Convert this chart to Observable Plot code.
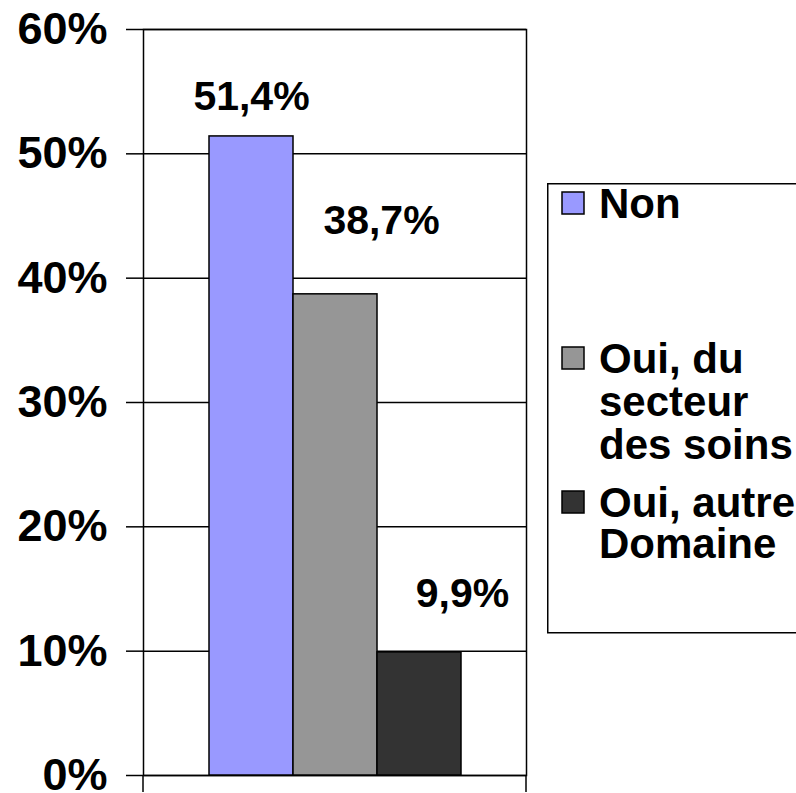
<!DOCTYPE html>
<html>
<head>
<meta charset="utf-8">
<script src="https://cdn.jsdelivr.net/npm/d3@7"></script>
<script src="https://cdn.jsdelivr.net/npm/@observablehq/plot@0.6"></script>
<style>
  html, body { margin: 0; padding: 0; background: #fff; }
  #wrap { position: relative; width: 796px; height: 793px; overflow: hidden; }
  #legend { position: absolute; left: 547px; top: 183px; }
</style>
</head>
<body>
<div id="wrap"></div>
<script>
const categories = ["Non", "Oui, du secteur des soins", "Oui, autre Domaine"];
const values = [0.514, 0.387, 0.099];
const valueLabels = ["51,4%", "38,7%", "9,9%"];
const colors = ["#9999FF", "#969696", "#333333"];
const yTicks = [0, 0.1, 0.2, 0.3, 0.4, 0.5, 0.6];
const legendLines = [["Non"], ["Oui, du", "secteur", "des soins"], ["Oui, autre", "Domaine"]];

const data = categories.map((c, i) => ({cat: c, value: values[i], label: valueLabels[i]}));
const FONT = "'Liberation Sans', Arial, Helvetica, sans-serif";
const labelOffsets = [[0, -40], [46, -73], [43, -59]];

const chart = Plot.plot({
  width: 796,
  height: 793,
  marginLeft: 143,
  marginRight: 270,
  marginTop: 29,
  marginBottom: 18,
  style: {fontFamily: FONT, fontWeight: "bold", background: "white", color: "black", overflow: "visible"},
  x: {domain: categories, paddingInner: 0, paddingOuter: 0.753, axis: null},
  y: {domain: [0, 0.6], axis: null},
  color: {domain: categories, range: colors},
  marks: [
    Plot.ruleY(yTicks, {stroke: "black", strokeWidth: 1.5}),
    Plot.frame({stroke: "black", strokeWidth: 1.5}),
    Plot.barY(data, {x: "cat", y: "value", fill: "cat", stroke: "black", strokeWidth: 1.5}),
    Plot.axisY({
      ticks: yTicks,
      tickFormat: d3.format(".0%"),
      tickSize: 17,
      tickPadding: 19,
      fontSize: 45,
      fontWeight: "bold",
      strokeWidth: 1.5,
      fill: "black",
      stroke: "black",
      label: null
    }),
    ...data.map((d, i) => Plot.text([d], {
      x: "cat", y: "value", text: "label",
      dx: labelOffsets[i][0], dy: labelOffsets[i][1],
      fontSize: 41, fontWeight: "bold", fill: "black", textAnchor: "middle"
    }))
  ]
});

// small ticks below the category axis at the frame edges
const xr = chart.scale("x").range;
const yr = chart.scale("y").range;
const svg = d3.select(chart);
[xr[0], xr[1]].forEach(x => {
  svg.append("line").attr("x1", x).attr("x2", x).attr("y1", yr[0]).attr("y2", yr[0] + 17)
    .attr("stroke", "black").attr("stroke-width", 1.5);
});

document.getElementById("wrap").appendChild(chart);

// legend
const lg = d3.select("#wrap").append("svg").attr("id", "legend")
  .attr("width", 260).attr("height", 451)
  .style("font-family", FONT).style("font-weight", "bold");
lg.append("rect").attr("x", 0.75).attr("y", 0.75).attr("width", 300).attr("height", 449)
  .attr("fill", "white").attr("stroke", "black").attr("stroke-width", 1.5);
const baselines = [35, 190, 334];
const lineSteps = [43, 43, 41];
legendLines.forEach((lines, i) => {
  lg.append("rect").attr("x", 15).attr("y", baselines[i] - 26).attr("width", 22).attr("height", 22)
    .attr("fill", colors[i]).attr("stroke", "black").attr("stroke-width", 1.5);
  const t = lg.append("text").attr("x", 52).attr("y", baselines[i]).attr("font-size", 42).attr("fill", "black");
  lines.forEach((l, j) => {
    t.append("tspan").attr("x", 52).attr("dy", j === 0 ? 0 : lineSteps[i]).text(l);
  });
});
</script>
</body>
</html>
